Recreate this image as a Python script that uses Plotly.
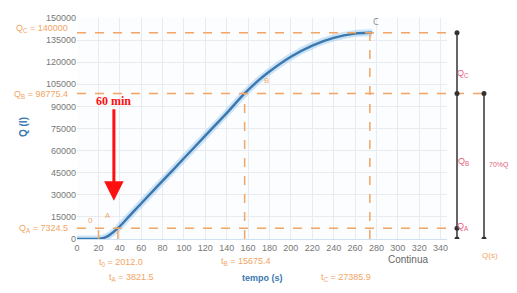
import plotly.graph_objects as go

# Curve values (t in hundreds of seconds, Q)
t_vals = [0, 10, 19, 25, 30, 38.2, 50, 60, 80, 100, 120, 140, 156.8, 170, 180, 200, 220, 240, 260, 274, 276]
q_vals = [0, 0, 50, 750, 2450, 7324, 16400, 24100, 39400, 54800, 70100, 85500, 98775, 107800, 113700, 123700, 131300, 136500, 139400, 140000, 140000]

# Key points
t0, tA, tB, tC = 20.12, 38.215, 156.754, 273.859
QA, QB, QC = 7324.5, 98775.4, 140000
t_labels = ["t<sub>0</sub> = 2012.0", "t<sub>A</sub> = 3821.5", "t<sub>B</sub> = 15675.4", "t<sub>C</sub> = 27385.9"]
q_labels = ["Q<sub>A</sub> = 7324.5", "Q<sub>B</sub> = 98775.4", "Q<sub>C</sub> = 140000"]

x_ticks = list(range(0, 341, 20))
y_ticks = list(range(0, 150001, 15000))

ORANGE = "#f2a564"
PINK = "#e8607a"
FONT = "Liberation Sans, Arial"

# page offset (browser body margin) compensation
OFF = 8
L, R = 77 - OFF, 447 - OFF
T, B = 13 - OFF, 239 - OFF
W, H = R - L, B - T

def px(p):
    return (p - OFF - L) / W

def py(p):
    return (B - (p - OFF)) / H

fig = go.Figure()
fig.add_trace(go.Scatter(x=t_vals, y=q_vals, mode="lines", line=dict(color="rgba(120,180,230,0.35)", width=7, shape="spline"), hoverinfo="skip"))
fig.add_trace(go.Scatter(x=t_vals, y=q_vals, mode="lines", line=dict(color="#3b78b0", width=2.5, shape="spline")))

shapes = []
dash = dict(color=ORANGE, width=1.5, dash="dash")
shapes.append(dict(type="line", xref="paper", yref="y", x0=0, x1=px(457), y0=QC, y1=QC, line=dash))
shapes.append(dict(type="line", xref="paper", yref="y", x0=0, x1=px(484), y0=QB, y1=QB, line=dash))
shapes.append(dict(type="line", xref="paper", yref="y", x0=0, x1=px(457), y0=QA, y1=QA, line=dash))
shapes.append(dict(type="line", xref="x", yref="y", x0=tC, x1=tC, y0=0, y1=QC, line=dash))
shapes.append(dict(type="line", xref="x", yref="y", x0=tB, x1=tB, y0=0, y1=QB, line=dash))
shapes.append(dict(type="line", xref="x", yref="y", x0=tA, x1=tA, y0=0, y1=QA, line=dash))
shapes.append(dict(type="line", xref="x", yref="y", x0=t0, x1=t0, y0=0, y1=QA, line=dash))
shapes.append(dict(type="line", xref="paper", yref="y", x0=px(457), x1=px(457), y0=0, y1=QC, line=dict(color="#666", width=2)))
shapes.append(dict(type="line", xref="paper", yref="y", x0=px(484), x1=px(484), y0=0, y1=QB, line=dict(color="#666", width=2)))
for xp, yv in [(457, QC), (457, QB), (457, QA), (457, 0), (484, QB), (484, 0)]:
    shapes.append(dict(type="circle", xref="paper", yref="y", xsizemode="pixel", ysizemode="pixel",
                       xanchor=px(xp), yanchor=yv, x0=-2.5, x1=2.5, y0=-2.5, y1=2.5,
                       fillcolor="#333", line=dict(width=0)))

ann = []
font_o = dict(color=ORANGE, size=9, family=FONT)
for lab, qv, ys in zip(q_labels, [QA, QB, QC], [0, -1, 4]):
    ann.append(dict(xref="paper", yref="y", x=px(70), y=qv, yshift=ys, text=lab, showarrow=False, xanchor="right", font=font_o))
for lab, (cx, cy) in zip(t_labels, [(97, 271), (107, 286), (246, 270), (373, 286)]):
    ann.append(dict(xref="paper", yref="paper", x=px(cx), y=py(cy), text=lab, showarrow=False, font=font_o))
ann.append(dict(xref="paper", yref="paper", x=px(262), y=py(286), text="<b>tempo (s)</b>", showarrow=False,
                font=dict(color="#3b78b0", size=9, family=FONT)))
ann.append(dict(xref="paper", yref="paper", x=px(430), y=py(268), text="Continua", showarrow=False,
                font=dict(color="#666", size=10, family=FONT)))
ann.append(dict(xref="paper", yref="paper", x=px(16), y=py(125), text="<b>Q (l)</b>", showarrow=False, textangle=-90,
                font=dict(color="#3b78b0", size=10, family=FONT)))
for lab, cy in [("Q<sub>C</sub>", 62), ("Q<sub>B</sub>", 160), ("Q<sub>A</sub>", 234)]:
    ann.append(dict(xref="paper", yref="paper", x=px(471), y=py(cy), text=lab, showarrow=False,
                    font=dict(color=PINK, size=9, family=FONT)))
ann.append(dict(xref="paper", yref="paper", x=px(488), y=py(163), text="70%Q", showarrow=False, xanchor="left",
                borderpad=0, font=dict(color=PINK, size=7, family=FONT)))
ann.append(dict(xref="paper", yref="paper", x=px(500), y=py(263), text="Q(s)", showarrow=False,
                font=dict(color=ORANGE, size=8, family=FONT)))
ann.append(dict(x=tC, y=QC, text="C", showarrow=False, xshift=6, yshift=11, font=dict(color="#888", size=9)))
ann.append(dict(x=tB, y=QB, text="B", showarrow=False, xshift=22, yshift=14, font=dict(color=ORANGE, size=8)))
ann.append(dict(x=tA, y=QA, text="A", showarrow=False, xshift=-10, yshift=14, font=dict(color=ORANGE, size=8)))
ann.append(dict(x=t0, y=0, text="0", showarrow=False, xshift=-8, yshift=20, font=dict(color=ORANGE, size=8)))
ann.append(dict(x=34.5, y=26000, ax=0, ay=-100, text="<b>60 min</b>", showarrow=True, arrowhead=2, arrowsize=1.3,
                arrowwidth=3, arrowcolor="#ff1010", font=dict(color="#ff1010", size=12, family="Liberation Serif, serif")))

fig.update_layout(
    width=517, height=293,
    margin=dict(l=L, r=517 - R, t=T, b=293 - B),
    paper_bgcolor="white", plot_bgcolor="#fbfdff",
    showlegend=False,
    shapes=shapes, annotations=ann,
    xaxis=dict(range=[0, 346], tickvals=x_ticks, showgrid=True, gridcolor="#e8ecf0", zeroline=False,
               tickfont=dict(color="#777", size=9, family=FONT), ticks="",
               showline=True, linecolor="#cfe0f0", linewidth=1),
    yaxis=dict(range=[0, 150000], tickvals=y_ticks, tickformat="d", showgrid=True, gridcolor="#e8ecf0", zeroline=False,
               tickfont=dict(color="#777", size=9, family=FONT), ticks=""),
)
fig.write_html("out.html")
